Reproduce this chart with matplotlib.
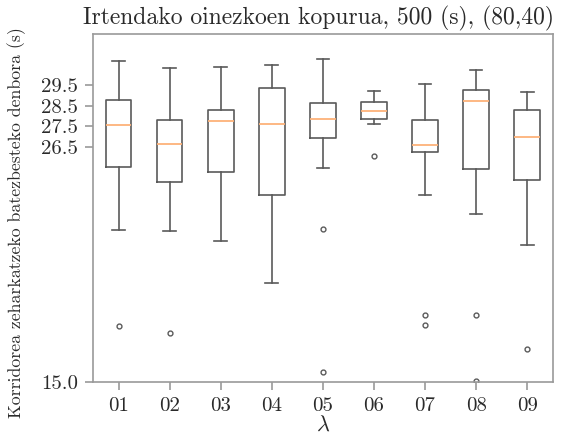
import matplotlib as mplt
mplt.use("Agg")
import matplotlib.pyplot as plt

plt.rcParams["font.family"] = ["cmr10", "DejaVu Serif"]
plt.rcParams["mathtext.fontset"] = "cm"
plt.rcParams["axes.unicode_minus"] = False

# box statistics per lambda group (seconds)
labels = ["01", "02", "03", "04", "05", "06", "07", "08", "09"]
whislo = [22.43, 22.40, 21.88, 19.85, 25.47, 27.62, 24.13, 23.21, 21.69]
q1 = [25.52, 24.78, 25.25, 24.13, 26.91, 27.86, 26.21, 25.42, 24.89]
med = [27.57, 26.61, 27.74, 27.62, 27.86, 28.24, 26.58, 28.73, 26.99]
q3 = [28.76, 27.80, 28.26, 29.35, 28.63, 28.68, 27.78, 29.25, 28.29]
whishi = [30.67, 30.31, 30.37, 30.50, 30.78, 29.19, 29.54, 30.23, 29.15]
fliers = [
    [17.73],
    [17.41],
    [],
    [],
    [22.47, 15.49],
    [26.04],
    [18.28, 17.80],
    [18.30, 15.06],
    [16.64],
]

yticks = [15.0, 26.5, 27.5, 28.5, 29.5]

stats = []
for i, lab in enumerate(labels):
    stats.append({
        "label": lab,
        "whislo": whislo[i],
        "q1": q1[i],
        "med": med[i],
        "q3": q3[i],
        "whishi": whishi[i],
        "fliers": fliers[i],
    })

fig = plt.figure(figsize=(5.64, 4.45), dpi=100)
ax = fig.add_axes([0.165, 0.141, 0.815, 0.783])

line_c = "#5a5a5a"
ax.bxp(
    stats,
    widths=0.5,
    boxprops=dict(color=line_c, lw=1.2),
    whiskerprops=dict(color=line_c, lw=1.2),
    capprops=dict(color=line_c, lw=1.2),
    medianprops=dict(color="#fdb27a", lw=1.3),
    flierprops=dict(marker="o", markersize=3.5, markerfacecolor="none",
                    markeredgecolor=line_c, markeredgewidth=1.0),
)

ax.set_xlim(0.5, 9.5)
ax.set_ylim(15.0, 32.0)
ax.set_yticks(yticks)
ax.set_yticklabels([f"{t:.1f}" for t in yticks])

for sp in ax.spines.values():
    sp.set_color("#9a9a9a")
    sp.set_linewidth(1.2)
ax.tick_params(axis="both", colors="#9a9a9a", labelcolor="#2a2a2a",
               labelsize=15, length=6, width=1.2, pad=5)

ax.set_title("Irtendako oinezkoen kopurua, 500 (s), (80,40)", fontsize=17,
             color="#2a2a2a", pad=7, x=0.49)
ax.set_xlabel(r"$\lambda$", fontsize=16, color="#2a2a2a", labelpad=0)
ax.set_ylabel("Korridorea zeharkatzeko batezbesteko denbora (s)", fontsize=12.8,
              color="#2a2a2a")
ax.yaxis.set_label_coords(-0.145, 0.457)

fig.savefig("out.png", dpi=100)
